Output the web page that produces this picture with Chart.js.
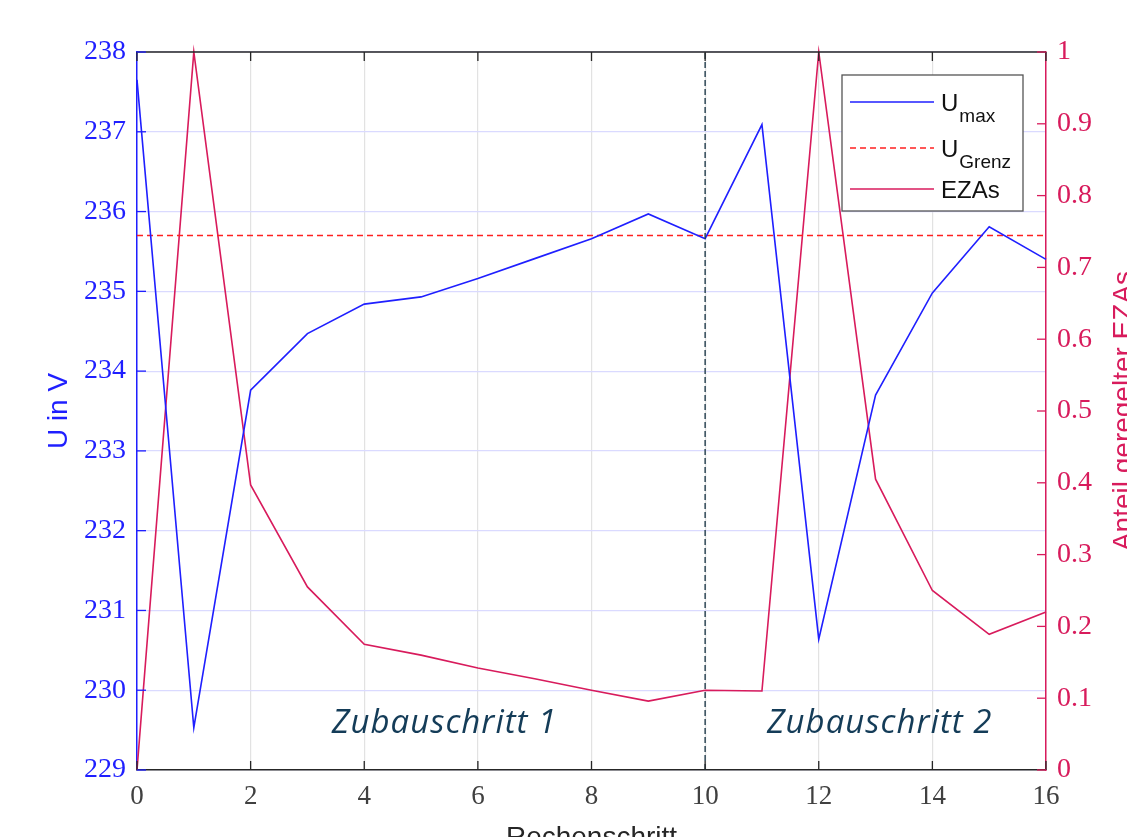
<!DOCTYPE html>
<html>
<head>
<meta charset="utf-8">
<script src="https://cdn.jsdelivr.net/npm/chart.js@4.4.1/dist/chart.umd.min.js"></script>
<style>
  html, body { margin: 0; padding: 0; background: #fff; overflow: hidden; }
  #wrap { width: 1165px; height: 870px; }
</style>
</head>
<body>
<div id="wrap"><canvas id="chart" width="1165" height="870"></canvas></div>
<script>
// Rechenschritt (x values)
const steps = [0, 1, 2, 3, 4, 5, 6, 7, 8, 9, 10, 11, 12, 13, 14, 15, 16];
// maximum voltage per step (left axis, V)
const uMax = [237.65, 229.53, 233.76, 234.47, 234.84, 234.93, 235.16, 235.41, 235.66, 235.97, 235.66,
              237.09, 230.64, 233.7, 234.98, 235.81, 235.4];
// share of controlled EZAs (right axis)
const ezaShare = [0, 1, 0.397, 0.255, 0.175, 0.16, 0.142, 0.127, 0.111, 0.096, 0.111,
                  0.11, 1, 0.405, 0.25, 0.189, 0.22];
// voltage limit
const uGrenz = 235.7;
// boundary between the two build-out stages
const stageBoundary = 10;
const stageLabels = ['Zubauschritt 1', 'Zubauschritt 2'];
const stageLabelX = [3.43, 11.09];
const stageLabelY = 229.47;
// legend entries: main text + subscript
const legendNames = [['U', 'max'], ['U', 'Grenz'], ['EZAs', '']];

const blue = '#1f1fff';
const crimson = '#d81b5c';
const dark = '#262626';
const serif = '"Liberation Serif", "DejaVu Serif", serif';
const sans = '"Liberation Sans", Arial, sans-serif';

// inward ticks, top frame, right title, stage labels and legend
const framePlugin = {
  id: 'frame',
  afterDraw(chart) {
    const ctx = chart.ctx;
    const a = chart.chartArea;
    const sx = chart.scales.x, sy = chart.scales.y, sy1 = chart.scales.y1;
    ctx.save();
    // top border
    ctx.strokeStyle = dark;
    ctx.lineWidth = 1.5;
    ctx.beginPath();
    ctx.moveTo(a.left, a.top);
    ctx.lineTo(a.right, a.top);
    ctx.stroke();
    // x ticks (bottom and top)
    ctx.lineWidth = 1.3;
    sx.ticks.forEach(t => {
      const px = sx.getPixelForValue(t.value);
      ctx.beginPath();
      ctx.moveTo(px, a.bottom); ctx.lineTo(px, a.bottom - 9);
      ctx.moveTo(px, a.top); ctx.lineTo(px, a.top + 9);
      ctx.stroke();
    });
    // left ticks
    ctx.strokeStyle = blue;
    sy.ticks.forEach(t => {
      const py = sy.getPixelForValue(t.value);
      ctx.beginPath();
      ctx.moveTo(a.left, py); ctx.lineTo(a.left + 9, py);
      ctx.stroke();
    });
    // right ticks
    ctx.strokeStyle = crimson;
    sy1.ticks.forEach(t => {
      const py = sy1.getPixelForValue(t.value);
      ctx.beginPath();
      ctx.moveTo(a.right, py); ctx.lineTo(a.right - 9, py);
      ctx.stroke();
    });
    // right axis title (reads bottom to top)
    ctx.fillStyle = crimson;
    ctx.font = '28px ' + sans;
    ctx.textAlign = 'center';
    ctx.textBaseline = 'middle';
    ctx.translate(a.right + 78, (a.top + a.bottom) / 2);
    ctx.rotate(-Math.PI / 2);
    ctx.fillText('Anteil geregelter EZAs', 0, 0);
    ctx.restore();

    // stage labels
    ctx.save();
    ctx.fillStyle = '#143c58';
    ctx.font = 'italic 33px "Open Sans", sans-serif';
    ctx.letterSpacing = '1px';
    ctx.textAlign = 'left';
    ctx.textBaseline = 'alphabetic';
    stageLabels.forEach((s, i) => {
      ctx.fillText(s, sx.getPixelForValue(stageLabelX[i]), sy.getPixelForValue(stageLabelY));
    });
    ctx.restore();

    // legend
    ctx.save();
    const lx = a.right - 204, ly = a.top + 23, lw = 181, lh = 136;
    ctx.fillStyle = '#fff';
    ctx.fillRect(lx, ly, lw, lh);
    ctx.strokeStyle = '#555';
    ctx.lineWidth = 1.3;
    ctx.strokeRect(lx, ly, lw, lh);
    const rows = [27, 73, 114];
    const order = [1, 2, 3];
    rows.forEach((ry, i) => {
      const ds = chart.data.datasets[order[i]];
      ctx.strokeStyle = ds.borderColor;
      ctx.lineWidth = ds.borderWidth;
      ctx.setLineDash(ds.borderDash || []);
      ctx.beginPath();
      ctx.moveTo(lx + 8, ly + ry);
      ctx.lineTo(lx + 92, ly + ry);
      ctx.stroke();
      ctx.setLineDash([]);
      ctx.fillStyle = '#111';
      ctx.textAlign = 'left';
      ctx.textBaseline = 'alphabetic';
      ctx.font = '24px ' + sans;
      const [main, sub] = legendNames[i];
      ctx.fillText(main, lx + 99, ly + ry + 9);
      if (sub) {
        const w = ctx.measureText(main).width;
        ctx.font = '19px ' + sans;
        ctx.fillText(sub, lx + 99 + w + 1, ly + ry + 20);
      }
    });
    ctx.restore();
  }
};

const ctx = document.getElementById('chart');
new Chart(ctx, {
  type: 'line',
  data: {
    datasets: [
      {
        label: 'Grenze Zubauschritt',
        data: [{x: stageBoundary, y: 229}, {x: stageBoundary, y: 238}],
        borderColor: '#233d4d', borderWidth: 1.4, borderDash: [6, 3],
        yAxisID: 'y', pointRadius: 0
      },
      {
        label: 'Umax',
        data: steps.map((s, i) => ({x: s, y: uMax[i]})),
        borderColor: blue, borderWidth: 1.6, yAxisID: 'y', pointRadius: 0
      },
      {
        label: 'UGrenz',
        data: [{x: steps[0], y: uGrenz}, {x: steps[steps.length - 1], y: uGrenz}],
        borderColor: '#ff2020', borderWidth: 1.3, borderDash: [6, 4],
        yAxisID: 'y', pointRadius: 0
      },
      {
        label: 'EZAs',
        data: steps.map((s, i) => ({x: s, y: ezaShare[i]})),
        borderColor: crimson, borderWidth: 1.6, yAxisID: 'y1', pointRadius: 0
      }
    ]
  },
  options: {
    responsive: false,
    animation: false,
    devicePixelRatio: 1,
    layout: { padding: { top: 52, left: 0, right: 0, bottom: 0 } },
    elements: { line: { tension: 0 } },
    datasets: { line: { clip: false } },
    plugins: { legend: { display: false }, tooltip: { enabled: false } },
    scales: {
      x: {
        type: 'linear', position: 'bottom', min: 0, max: 16,
        ticks: { stepSize: 2, color: '#404040', font: { family: serif, size: 27 }, padding: 11, maxRotation: 0 },
        grid: { color: '#e2e2e2', lineWidth: 1.2, drawTicks: false },
        border: { color: dark, width: 1.5 },
        title: { display: true, text: 'Rechenschritt', color: dark,
                 font: { family: sans, size: 28 }, padding: { top: 0, bottom: 15 } },
        afterFit(s) { s.height = 100; }
      },
      y: {
        position: 'left', min: 229, max: 238,
        ticks: { stepSize: 1, color: blue, font: { family: serif, size: 28 }, padding: 11 },
        grid: { color: '#dadaff', lineWidth: 1.2, drawTicks: false },
        border: { color: blue, width: 1.5 },
        title: { display: true, text: 'U in V', color: blue,
                 font: { family: sans, size: 28 }, padding: { top: 42, bottom: 0 } },
        afterFit(s) { s.width = 137; }
      },
      y1: {
        position: 'right', min: 0, max: 1,
        ticks: { stepSize: 0.1, color: crimson, font: { family: serif, size: 28 }, padding: 11,
                 callback: v => String(Math.round(v * 10) / 10) },
        grid: { drawOnChartArea: false, drawTicks: false },
        border: { color: crimson, width: 1.5 },
        afterFit(s) { s.width = 119; }
      }
    }
  },
  plugins: [framePlugin]
});
</script>
</body>
</html>
